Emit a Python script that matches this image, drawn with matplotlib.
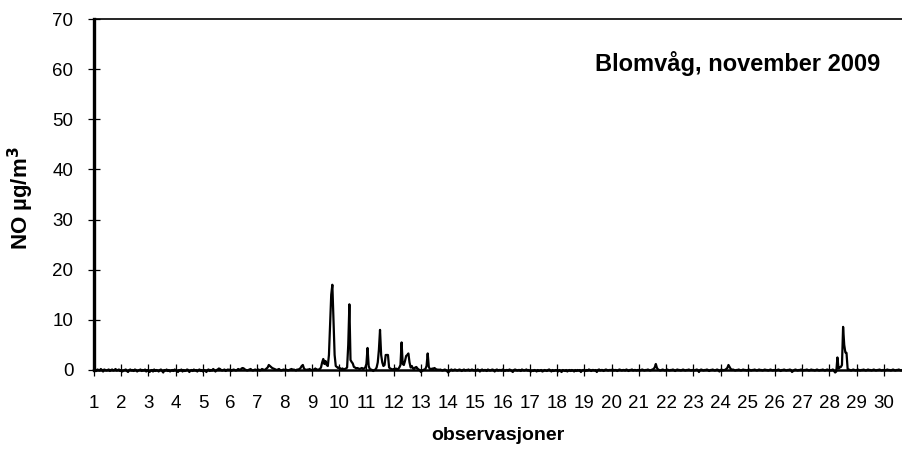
import matplotlib
matplotlib.use("Agg")
import matplotlib.pyplot as plt
import numpy as np

plt.rcParams['font.family'] = ['Liberation Sans', 'DejaVu Sans']

# Hourly NO values (µg/m3), one list per day of November 2009
day01 = [0.1,0.0,-0.2,0.1,0.0,-0.1,0.2,0.0,-0.3,0.1,0.0,-0.1,0.0,0.1,-0.2,0.0,0.1,-0.1,0.0,0.2,-0.1,0.0,0.1,-0.2]
day02 = [0.0,-0.3,-0.1,0.0,0.1,-0.2,-0.4,0.0,0.1,-0.1,0.0,-0.2,0.1,0.0,-0.3,-0.1,0.0,0.1,-0.2,0.0,-0.1,0.1,-0.3,0.0]
day03 = [-0.2,-0.4,-0.1,0.0,-0.3,0.1,-0.2,0.0,-0.1,-0.3,0.0,0.1,-0.2,-0.5,0.0,-0.1,0.1,-0.2,0.0,-0.3,-0.1,0.0,-0.2,0.1]
day04 = [0.0,-0.2,-0.4,0.0,-0.1,0.1,-0.3,0.0,-0.2,-0.1,0.1,0.0,-0.4,-0.1,0.0,-0.2,0.1,-0.1,0.0,-0.3,0.0,0.1,-0.2,0.0]
day05 = [-0.3,0.0,-0.1,-0.4,0.0,0.1,-0.2,0.0,-0.1,0.2,0.0,-0.3,0.0,0.1,0.3,0.2,0.0,-0.1,0.0,0.1,-0.2,0.0,0.1,0.0]
day06 = [0.1,-0.2,0.0,0.1,0.0,-0.1,0.0,0.2,0.1,0.0,0.3,0.4,0.3,0.1,0.0,-0.1,0.0,0.1,0.2,0.0,-0.1,0.0,0.1,0.0]
day07 = [0.0,0.1,-0.1,0.0,0.2,0.1,0.0,0.1,0.3,0.5,1.0,0.8,0.6,0.4,0.3,0.2,0.1,0.0,0.1,0.2,0.0,-0.1,0.0,0.1]
day08 = [0.0,0.1,0.0,-0.1,0.0,0.1,0.2,0.0,0.1,0.0,-0.1,0.1,0.0,0.2,0.4,0.8,1.0,0.3,0.1,0.0,0.1,0.0,0.2,0.0]
day09 = [0.0,0.1,0.0,0.3,0.0,0.1,0.0,0.2,0.5,1.5,2.2,1.2,1.8,1.0,0.8,3.0,9.0,15.0,17.0,10.0,3.0,0.8,0.6,0.4]
day10 = [0.5,0.3,0.2,0.3,0.1,0.2,0.3,0.5,5.0,13.1,2.0,1.6,1.3,0.6,0.5,0.3,0.4,0.3,0.2,0.3,0.4,0.2,0.3,0.5]
day11 = [1.2,4.4,0.8,0.2,0.1,0.0,-0.2,0.0,0.1,0.5,1.5,4.0,8.0,3.0,1.5,0.8,1.0,3.0,3.0,3.0,0.5,0.3,0.2,0.1]
day12 = [0.2,0.0,0.3,0.1,0.2,0.5,1.0,5.5,1.2,1.0,1.8,2.8,3.0,3.3,1.5,0.5,0.8,0.3,0.2,0.5,0.6,0.3,0.1,0.0]
day13 = [-0.4,-0.2,0.0,0.1,0.2,0.8,3.3,0.6,0.2,0.1,0.3,0.2,0.4,0.2,0.0,0.1,0.0,0.1,0.0,-0.1,0.0,0.1,0.0,-0.2]
day14 = [-0.5,-0.3,0.0,0.1,-0.1,0.0,0.1,0.0,-0.1,0.0,0.1,0.0,-0.2,0.0,0.1,-0.1,0.0,0.0,0.1,-0.1,0.0,0.1,0.0,-0.1]
day15 = [0.0,-0.1,0.1,0.0,-0.3,0.0,0.1,-0.1,0.0,0.0,-0.2,0.1,0.0,-0.1,0.0,0.1,0.0,-0.3,0.0,0.1,-0.1,0.0,0.0,-0.1]
day16 = [0.1,0.0,-0.2,0.0,0.0,-0.1,0.1,0.0,-0.2,-0.4,0.0,0.1,0.0,-0.1,0.0,0.0,-0.2,0.1,0.0,-0.1,0.0,0.1,-0.1,0.0]
day17 = [-0.2,-0.3,-0.1,-0.2,0.0,-0.1,-0.3,0.0,-0.2,-0.1,0.0,-0.3,-0.2,0.0,-0.1,-0.2,0.0,0.1,-0.1,-0.3,0.0,-0.2,-0.1,0.0]
day18 = [-0.1,-0.3,0.0,-0.2,-0.4,0.0,-0.1,-0.2,0.0,-0.3,-0.1,0.0,-0.2,0.0,-0.1,-0.3,0.0,-0.2,0.0,-0.1,0.0,-0.4,-0.1,0.0]
day19 = [0.0,-0.2,0.0,-0.1,0.1,0.0,-0.2,0.0,0.0,-0.1,0.0,-0.4,0.0,0.1,-0.1,0.0,0.0,-0.2,0.0,0.1,0.0,-0.1,0.0,0.0]
day20 = [0.0,0.1,-0.1,0.0,0.0,-0.2,0.0,0.1,0.0,-0.1,0.0,0.0,-0.1,0.1,0.0,-0.2,0.0,0.0,0.1,-0.1,0.0,0.0,-0.1,0.0]
day21 = [0.0,-0.1,0.0,0.1,0.0,-0.1,0.0,0.0,0.1,0.0,-0.1,0.0,0.1,0.2,0.5,1.2,0.4,0.1,0.0,-0.1,0.0,0.1,0.0,-0.1]
day22 = [0.0,0.1,0.0,-0.1,0.0,0.0,0.1,0.0,-0.2,0.0,0.1,0.0,0.0,-0.1,0.0,0.1,0.0,-0.1,0.0,0.0,0.1,0.0,-0.1,0.0]
day23 = [0.0,-0.1,0.0,0.1,0.0,-0.4,0.0,0.1,0.0,-0.1,0.0,0.0,0.1,0.0,-0.2,0.0,0.0,0.1,0.0,-0.1,0.0,0.1,0.0,-0.3]
day24 = [0.0,0.1,-0.1,0.0,0.0,0.2,0.4,1.0,0.6,0.2,0.0,0.1,0.0,-0.1,0.0,0.0,0.1,0.0,-0.1,0.0,0.1,0.0,0.0,-0.1]
day25 = [0.0,0.1,0.0,-0.1,0.0,0.0,0.1,0.0,-0.1,0.0,0.1,0.0,0.0,-0.1,0.0,0.1,0.0,0.0,-0.1,0.0,0.1,0.0,-0.1,0.0]
day26 = [0.0,-0.1,0.0,0.1,0.0,-0.2,0.0,0.0,0.1,0.0,-0.1,0.0,0.0,0.1,0.0,-0.4,-0.2,0.0,0.1,0.0,-0.1,0.0,0.0,0.1]
day27 = [0.0,-0.1,0.0,0.0,0.1,0.0,-0.1,0.0,0.1,0.0,0.0,-0.1,0.0,0.1,0.0,-0.1,0.0,0.0,0.1,0.0,-0.1,0.0,0.1,0.0]
day28 = [0.0,-0.1,0.0,0.1,-0.2,-0.5,-0.3,2.5,0.3,0.5,0.6,1.0,8.6,5.0,3.5,3.4,0.2,0.1,0.0,-0.1,0.0,0.1,0.0,-0.1]
day29 = [0.0,0.1,0.0,-0.1,0.0,0.0,0.1,0.0,-0.1,0.0,0.1,0.0,0.0,-0.1,0.0,0.1,0.0,-0.1,0.0,0.0,0.1,0.0,-0.1,0.0]
day30 = [0.0,-0.1,0.0,0.1,0.0,0.0,-0.1,0.0,0.1,0.0,-0.1,0.0,0.0,0.1,0.0,-0.1,0.0,0.0,0.1,0.0,-0.1,0.0,0.1,0.0]

days = [day01, day02, day03, day04, day05, day06, day07, day08, day09, day10,
        day11, day12, day13, day14, day15, day16, day17, day18, day19, day20,
        day21, day22, day23, day24, day25, day26, day27, day28, day29, day30]
x_ticks = list(range(1, 31))
x_tick_labels = [str(d) for d in x_ticks]
y_ticks = [0, 10, 20, 30, 40, 50, 60, 70]

values = np.concatenate([np.array(d, dtype=float) for d in days])
xpos = np.array([d + h / 24.0 for d in x_ticks for h in range(24)])

fig = plt.figure(figsize=(9.03, 4.5), dpi=100)
ax = fig.add_axes([94/903, 1 - 370/450, 1 - 94/903, (370 - 19)/450])

ax.plot(xpos, values, color='black', linewidth=1.6, clip_on=False, zorder=3)

ax.set_xlim(1, 1 + (903 - 94) / 27.24)
ax.set_ylim(0, 70)
ax.set_xticks(x_ticks)
ax.set_xticklabels(x_tick_labels)
ax.set_yticks(y_ticks)

ax.spines['right'].set_visible(False)
ax.spines['left'].set_linewidth(2.4)
ax.spines['bottom'].set_linewidth(1.8)
ax.spines['top'].set_linewidth(1.2)
ax.tick_params(axis='both', direction='inout', length=8.6, width=0.9,
               labelsize=13.5, colors='black')
ax.tick_params(axis='y', pad=10.5)
ax.tick_params(axis='x', pad=14)

fig.text(21/903, 1 - 198/450, 'NO µg/m$^\\mathbf{3}$', rotation=90, ha='center', va='center',
         fontsize=16, fontweight='bold')
fig.text(497.5/903, 1 - 436/450, 'observasjoner', ha='center', va='center',
         fontsize=14, fontweight='bold')
ax.text(738/903, 1 - 63/450, 'Blomvåg, november 2009', transform=fig.transFigure,
        ha='center', va='center', fontsize=17, fontweight='bold')

fig.savefig('out.png', dpi=100)
